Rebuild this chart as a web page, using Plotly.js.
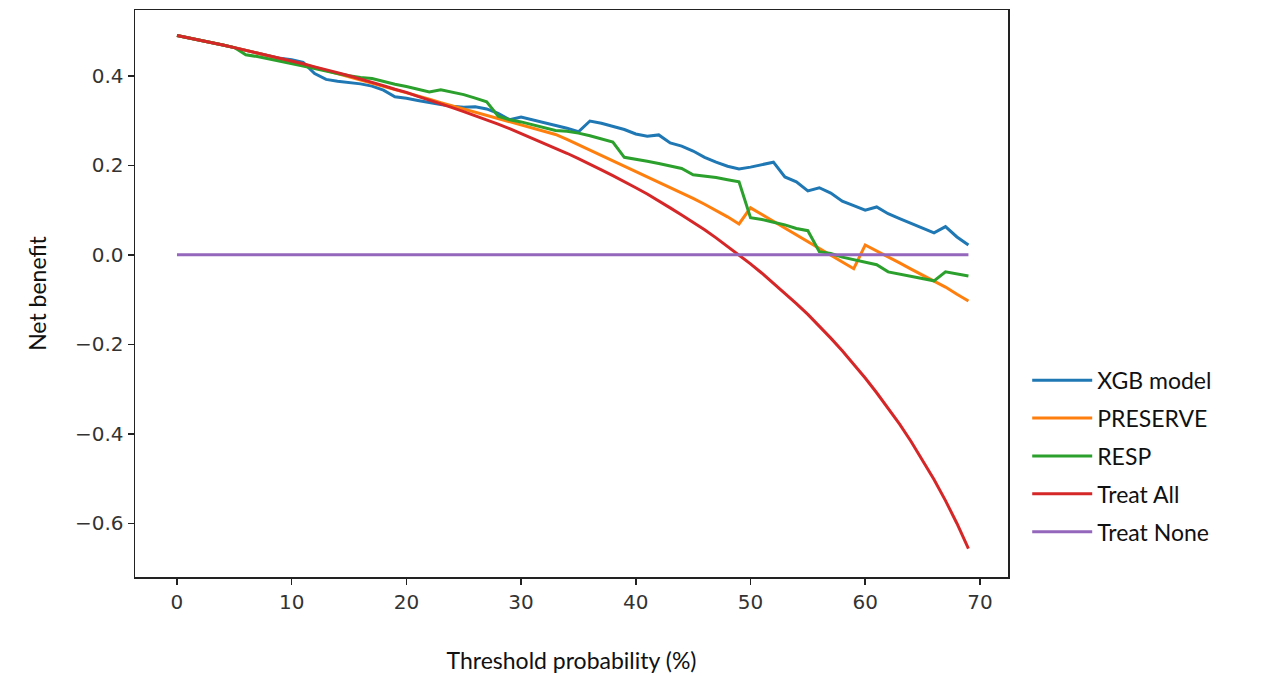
<!DOCTYPE html>
<html>
<head>
<meta charset="utf-8">
<script src="https://cdn.plot.ly/plotly-3.0.1.min.js"></script>
<style>html,body{margin:0;padding:0;background:#fff;}#chart{width:1263px;height:676px;}</style>
</head>
<body>
<div id="chart"></div>
<script>
// Threshold probability (%)
const thresholds = Array.from({length: 70}, (_, i) => i);

const xgbModel = [
  0.490, 0.485, 0.480, 0.474, 0.469, 0.463, 0.457, 0.451, 0.445, 0.439,
  0.436, 0.430, 0.405, 0.392, 0.388, 0.385, 0.382, 0.377, 0.368, 0.353,
  0.350, 0.345, 0.340, 0.336, 0.332, 0.330, 0.331, 0.326, 0.316, 0.302,
  0.308, 0.302, 0.296, 0.289, 0.283, 0.275, 0.299, 0.294, 0.287, 0.280,
  0.270, 0.265, 0.268, 0.250, 0.243, 0.232, 0.218, 0.207, 0.198, 0.192,
  0.196, 0.202, 0.207, 0.174, 0.163, 0.143, 0.150, 0.138, 0.120, 0.110,
  0.100, 0.107, 0.092, 0.081, 0.070, 0.059, 0.049, 0.063, 0.040, 0.022
];

const preserve = [
  0.490, 0.485, 0.480, 0.474, 0.469, 0.463, 0.457, 0.451, 0.445, 0.439,
  0.432, 0.426, 0.419, 0.412, 0.405, 0.398, 0.391, 0.384, 0.376, 0.369,
  0.362, 0.355, 0.348, 0.340, 0.333, 0.326, 0.319, 0.312, 0.305, 0.298,
  0.291, 0.284, 0.277, 0.269, 0.258, 0.246, 0.234, 0.222, 0.210, 0.198,
  0.186, 0.174, 0.163, 0.151, 0.139, 0.126, 0.113, 0.099, 0.085, 0.069,
  0.105, 0.090, 0.075, 0.060, 0.045, 0.030, 0.015, 0.000, -0.015, -0.031,
  0.022, 0.009, -0.005, -0.018, -0.032, -0.045, -0.058, -0.072, -0.088, -0.103
];

const resp = [
  0.490, 0.485, 0.480, 0.474, 0.469, 0.463, 0.447, 0.443, 0.438, 0.433,
  0.428, 0.422, 0.416, 0.410, 0.405, 0.400, 0.396, 0.394, 0.387, 0.381,
  0.376, 0.370, 0.364, 0.369, 0.364, 0.358, 0.350, 0.342, 0.310, 0.302,
  0.297, 0.291, 0.285, 0.278, 0.276, 0.272, 0.266, 0.259, 0.252, 0.218,
  0.214, 0.209, 0.204, 0.199, 0.193, 0.179, 0.176, 0.173, 0.168, 0.163,
  0.083, 0.079, 0.073, 0.067, 0.059, 0.054, 0.007, 0.003, -0.005, -0.011,
  -0.016, -0.022, -0.038, -0.043, -0.048, -0.053, -0.058, -0.038, -0.043, -0.047
];

const treatAll = [
  0.490, 0.485, 0.480, 0.474, 0.469, 0.463, 0.457, 0.452, 0.446, 0.440,
  0.433, 0.427, 0.420, 0.414, 0.407, 0.400, 0.393, 0.386, 0.378, 0.370,
  0.363, 0.354, 0.346, 0.338, 0.329, 0.320, 0.311, 0.301, 0.292, 0.282,
  0.271, 0.261, 0.250, 0.239, 0.227, 0.215, 0.203, 0.190, 0.177, 0.164,
  0.150, 0.136, 0.121, 0.105, 0.089, 0.073, 0.056, 0.038, 0.019, 0.000,
  -0.020, -0.041, -0.063, -0.085, -0.109, -0.133, -0.159, -0.186, -0.214, -0.244,
  -0.275, -0.308, -0.342, -0.378, -0.417, -0.458, -0.502, -0.549, -0.600, -0.656
];

const treatNone = [
  0, 0, 0, 0, 0, 0, 0, 0, 0, 0, 0, 0, 0, 0, 0, 0, 0, 0, 0, 0,
  0, 0, 0, 0, 0, 0, 0, 0, 0, 0, 0, 0, 0, 0, 0, 0, 0, 0, 0, 0,
  0, 0, 0, 0, 0, 0, 0, 0, 0, 0, 0, 0, 0, 0, 0, 0, 0, 0, 0, 0,
  0, 0, 0, 0, 0, 0, 0, 0, 0, 0
];

const seriesNames = ["XGB model", "PRESERVE", "RESP", "Treat All", "Treat None"];
const seriesValues = [xgbModel, preserve, resp, treatAll, treatNone];
const seriesColors = ["#1f77b4", "#ff7f0e", "#2ca02c", "#d62728", "#9467bd"];

const traces = seriesNames.map((name, i) => ({
  type: "scatter",
  mode: "lines",
  name: name,
  x: thresholds,
  y: seriesValues[i],
  legendgroup: "g" + i,
  line: {color: seriesColors[i], width: 3}
}));

const layout = {
  width: 1263,
  height: 676,
  paper_bgcolor: "#ffffff",
  plot_bgcolor: "#ffffff",
  margin: {l: 135, r: 255, t: 10, b: 99},
  showlegend: true,
  legend: {
    x: 1.022, y: 0.385, xanchor: "left", yanchor: "top",
    font: {family: "Lato, 'Open Sans', sans-serif", size: 23, color: "#111"},
    traceorder: "grouped",
    tracegroupgap: 5,
    itemwidth: 60,
    bgcolor: "rgba(0,0,0,0)"
  },
  xaxis: {
    range: [-3.66, 72.45],
    tickvals: [0, 10, 20, 30, 40, 50, 60, 70],
    ticks: "outside", ticklen: 6, tickwidth: 1.5, tickcolor: "#222",
    showline: true, linecolor: "#222", linewidth: 1.5, mirror: true,
    showgrid: false, zeroline: false,
    tickfont: {family: "DejaVu Sans, sans-serif", size: 20, color: "#333"},
    title: {text: "Threshold probability (%)", standoff: 40,
            font: {family: "Lato, 'Open Sans', sans-serif", size: 23, color: "#111"}}
  },
  yaxis: {
    range: [-0.7196, 0.547],
    tickvals: [-0.6, -0.4, -0.2, 0.0, 0.2, 0.4],
    ticktext: ["\u22120.6", "\u22120.4", "\u22120.2", "0.0", "0.2", "0.4"],
    ticks: "outside", ticklen: 6, tickwidth: 1.5, tickcolor: "#222",
    showline: true, linecolor: "#222", linewidth: 1.5, mirror: true,
    showgrid: false, zeroline: false,
    tickfont: {family: "DejaVu Sans, sans-serif", size: 20, color: "#333"},
    title: {text: "Net benefit", standoff: 22,
            font: {family: "Lato, 'Open Sans', sans-serif", size: 23, color: "#111"}}
  }
};

Plotly.newPlot("chart", traces, layout, {displayModeBar: false, staticPlot: true});
</script>
</body>
</html>
